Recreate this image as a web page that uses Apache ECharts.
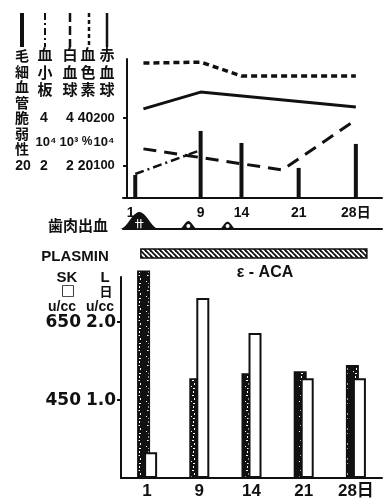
<!DOCTYPE html>
<html>
<head>
<meta charset="utf-8">
<script src="https://cdn.jsdelivr.net/npm/echarts@6/dist/echarts.min.js"></script>
<style>
  html, body { margin: 0; padding: 0; background: #fff; }
  #c { width: 383px; height: 498px; }
</style>
</head>
<body>
<div id="c"></div>
<script>
// ---- Blood findings over the course (days) ----
const days = [1, 9, 14, 21, 28];
const capFragility = [14.4, 41.9, 34.4, 18.8, 33.8];   // 毛細血管脆弱性
const plateletDays = [1, 9];
const platelets = [1.66, 2.66];                        // 血小板 ×10⁴
const wbcDays = [2, 19, 28];
const wbc = [2.71, 1.83, 3.92];                        // 白血球 ×10³
const hbDays = [2, 9, 14, 28];
const hemoglobin = [62.9, 63.3, 57.5, 57.5];           // 血色素 %
const rbcDays = [2, 9, 28];
const rbc = [219, 254, 223];                           // 赤血球 ×10⁴
// 歯肉出血: [day, grade]
const gumBleeding = [[1.5, 3], [7.5, 1.4], [12.3, 1.3]];

// ---- Plasmin activity ----
const plasminDays = ['1', '9', '14', '21', '28'];
const skPlasmin = [783, 506, 519, 524, 540];           // SK u/cc
const lPlasmin = [0.33, 2.31, 1.86, 1.28, 1.28];       // L u/cc
const acaCourse = [[0, 4]];                            // ε-ACA, first..last sampling index

// tick labels
const rbcTicks = [100, 200];
const hbTicks = [20, 40];
const wbcTicks = [2, 4];
const pltTicks = [2, 4];
const fragTicks = [20];
const skTicks = [450, 650];
const lTicks = [1, 2];

const INK = '#111';
const LAT = '"Liberation Sans", "Noto Sans CJK JP", sans-serif';
const WIDE = '"DejaVu Sans", sans-serif';
const CJK = '"Noto Sans CJK JP", sans-serif';

// black stippled fill for the SK bars
function stipple() {
  const c = document.createElement('canvas');
  c.width = 9; c.height = 15;
  const g = c.getContext('2d');
  g.fillStyle = INK; g.fillRect(0, 0, 9, 15);
  g.fillStyle = '#fff';
  g.fillRect(4, 1, 1, 2); g.fillRect(3, 5, 2, 1); g.fillRect(5, 8, 1, 2);
  g.fillRect(2, 11, 1, 1); g.fillRect(4, 13, 2, 1);
  return c;
}
// diagonal hatching for the ε-ACA band
function hatch() {
  const c = document.createElement('canvas');
  c.width = 5; c.height = 5;
  const g = c.getContext('2d');
  g.fillStyle = '#fff'; g.fillRect(0, 0, 5, 5);
  g.strokeStyle = INK; g.lineWidth = 1.8;
  g.beginPath(); g.moveTo(-1, -1); g.lineTo(6, 6); g.stroke();
  g.beginPath(); g.moveTo(4, -1); g.lineTo(6, 1); g.stroke();
  g.beginPath(); g.moveTo(-1, 4); g.lineTo(1, 6); g.stroke();
  return c;
}

const chart = echarts.init(document.getElementById('c'), null, { renderer: 'canvas' });

function hiddenY(grid, min, max, ticks, margin) {
  return {
    type: 'value', gridIndex: grid, min: min, max: max, position: 'left',
    axisLine: { show: false }, axisTick: { show: false }, splitLine: { show: false },
    axisLabel: ticks ? {
      customValues: ticks, margin: margin, align: 'center', color: INK,
      fontFamily: LAT, fontWeight: 'bold', fontSize: 14
    } : { show: false }
  };
}

const axisLine = { show: true, lineStyle: { color: INK, width: 2 } };

// legend samples and fixed captions
const graphics = [];
[[22, 4, null], [45, 2, [7, 3, 2, 3]], [70, 2.5, [9, 4]], [89, 2.5, [4, 3]], [107, 2.5, null]]
  .forEach(([x, w, dash]) => graphics.push({
    type: 'line', shape: { x1: x, y1: 13, x2: x, y2: 47 },
    style: { stroke: INK, lineWidth: w, lineDash: dash }
  }));
function txt(text, x, y, font, extra) {
  graphics.push({ type: 'text', x: x, y: y,
    style: Object.assign({ text: text, font: font, fill: INK, align: 'center', verticalAlign: 'middle' }, extra || {}) });
}
txt('毛\n細\n血\n管\n脆\n弱\n性', 22, 48, 'bold 14px ' + CJK, { verticalAlign: 'top', lineHeight: 15.5 });
txt('血\n小\n板', 45, 46, 'bold 15px ' + CJK, { verticalAlign: 'top', lineHeight: 17.5 });
txt('白\n血\n球', 70, 46, 'bold 15px ' + CJK, { verticalAlign: 'top', lineHeight: 17.5 });
txt('血\n色\n素', 88, 46, 'bold 15px ' + CJK, { verticalAlign: 'top', lineHeight: 17.5 });
txt('赤\n血\n球', 107, 46, 'bold 15px ' + CJK, { verticalAlign: 'top', lineHeight: 17.5 });
txt('10⁴', 46, 142, 'bold 13px ' + LAT);
txt('10³', 69, 142, 'bold 13px ' + LAT);
txt('%', 87, 142, 'bold 12px ' + LAT);
txt('10⁴', 104, 142, 'bold 13px ' + LAT);
txt('歯肉出血', 78, 225, 'bold 15px ' + CJK);
txt('PLASMIN', 75, 257, 'bold 15px ' + LAT);
txt('SK', 67, 278, 'bold 15px ' + LAT);
txt('L', 105, 278, 'bold 15px ' + LAT);
txt('□', 68, 291, 'bold 15px ' + WIDE);
txt('日', 106, 291, 'bold 13px ' + CJK);
txt('u/cc', 62, 307, 'bold 14px ' + LAT);
txt('u/cc', 100, 307, 'bold 14px ' + LAT);
txt('ε - ACA', 265, 273, 'bold 16px ' + LAT);

const option = {
  backgroundColor: '#fff',
  animation: false,
  graphic: graphics,
  grid: [
    { left: 123, top: 59, width: 259, height: 139, outerBoundsMode: 'none', containLabel: false },
    { left: 123, top: 212, width: 259, height: 17, outerBoundsMode: 'none', containLabel: false },
    { left: 121, top: 277, width: 261, height: 201, outerBoundsMode: 'none', containLabel: false }
  ],
  xAxis: [
    { type: 'value', gridIndex: 0, min: -0.5, max: 31.2, axisLine: axisLine,
      axisTick: { show: false }, splitLine: { show: false },
      axisLabel: { customValues: days, margin: 8, color: INK, fontFamily: LAT, fontWeight: 'bold', fontSize: 14,
        formatter: v => v === 1 ? '{first|1}' : (v === 28 ? '28日' : String(v)),
        rich: { first: { padding: [0, 9, 0, 0], fontFamily: LAT, fontWeight: 'bold', fontSize: 14, color: INK } } } },
    { type: 'value', gridIndex: 1, min: -0.5, max: 31.2, axisLine: axisLine,
      axisTick: { show: false }, splitLine: { show: false }, axisLabel: { show: false } },
    { type: 'category', gridIndex: 2, data: plasminDays, axisLine: axisLine,
      axisTick: { show: false },
      axisLabel: { margin: 5, color: INK, fontFamily: LAT, fontWeight: 'bold', fontSize: 17,
        formatter: v => v === '28' ? '28日' : v } }
  ],
  yAxis: [
    // 0: 赤血球 (drawn axis)
    { type: 'value', gridIndex: 0, min: 33, max: 323, position: 'left',
      axisLine: axisLine, splitLine: { show: false },
      axisTick: { show: true, customValues: rbcTicks, length: 4, lineStyle: { color: INK, width: 2 } },
      axisLabel: { customValues: rbcTicks, margin: 19, align: 'center', color: INK,
        fontFamily: LAT, fontWeight: 'bold', fontSize: 13 } },
    hiddenY(0, 6.6, 64.6, hbTicks, 37.5),      // 1: 血色素
    hiddenY(0, 0.66, 6.46, wbcTicks, 53),      // 2: 白血球
    hiddenY(0, 0.66, 6.46, pltTicks, 79),      // 3: 血小板
    hiddenY(0, 0, 86.875, fragTicks, 100),     // 4: 毛細血管脆弱性
    hiddenY(1, 0, 3, null, 0),                 // 5: gum bleeding grade
    // 6: L plasmin (drawn axis)
    { type: 'value', gridIndex: 2, min: 0, max: 2.58, position: 'left',
      axisLine: axisLine, splitLine: { show: false },
      axisTick: { show: true, customValues: lTicks, length: 4, lineStyle: { color: INK, width: 2 } },
      axisLabel: { customValues: lTicks, margin: 5, color: INK, fontFamily: WIDE, fontWeight: 'bold', fontSize: 17,
        formatter: v => v.toFixed(1) } },
    // 7: SK plasmin
    { type: 'value', gridIndex: 2, min: 250, max: 766, startValue: 250, position: 'left',
      axisLine: { show: false }, axisTick: { show: false }, splitLine: { show: false },
      axisLabel: { customValues: skTicks, margin: 40, color: INK, fontFamily: WIDE, fontWeight: 'bold', fontSize: 17 } }
  ],
  series: [
    { name: '毛細血管脆弱性', type: 'bar', xAxisIndex: 0, yAxisIndex: 4, barWidth: 4,
      itemStyle: { color: INK }, data: days.map((d, i) => [d, capFragility[i]]) },
    { name: '赤血球', type: 'line', xAxisIndex: 0, yAxisIndex: 0, symbol: 'none',
      lineStyle: { color: INK, width: 3 }, data: rbcDays.map((d, i) => [d, rbc[i]]) },
    { name: '血色素', type: 'line', xAxisIndex: 0, yAxisIndex: 1, symbol: 'none',
      lineStyle: { color: INK, width: 3.5, type: [6, 4] }, data: hbDays.map((d, i) => [d, hemoglobin[i]]) },
    { name: '白血球', type: 'line', xAxisIndex: 0, yAxisIndex: 2, symbol: 'none',
      lineStyle: { color: INK, width: 3, type: [13, 8] }, data: wbcDays.map((d, i) => [d, wbc[i]]) },
    { name: '血小板', type: 'line', xAxisIndex: 0, yAxisIndex: 3, symbol: 'none',
      lineStyle: { color: INK, width: 2.5, type: [9, 4, 2, 4] }, data: plateletDays.map((d, i) => [d, platelets[i]]) },
    { name: '歯肉出血', type: 'custom', xAxisIndex: 1, yAxisIndex: 5, data: gumBleeding,
      renderItem: function (params, api) {
        const top = api.coord([api.value(0), api.value(1)]);
        const base = api.coord([api.value(0), 0]);
        const h = base[1] - top[1], w = h * 1.15;
        const pts = [];
        for (let i = 0; i <= 24; i++) {
          const t = -1 + i / 12;
          pts.push([base[0] + t * w, base[1] - h * (0.5 + 0.5 * Math.cos(Math.PI * t))]);
        }
        const kids = [{ type: 'polygon', shape: { points: pts }, style: { fill: INK } }];
        if (api.value(1) >= 2) {
          kids.push({ type: 'text', style: { text: '卄', x: base[0], y: base[1] - 5, fill: '#fff',
            font: 'bold 9px ' + CJK, align: 'center', verticalAlign: 'middle' } });
        } else {
          kids.push({ type: 'circle', shape: { cx: base[0], cy: base[1] - 3, r: 2 }, style: { fill: '#fff' } });
        }
        return { type: 'group', children: kids };
      } },
    { name: 'SK', type: 'bar', xAxisIndex: 2, yAxisIndex: 7, barWidth: 13, barGap: '-46%', clip: false,
      itemStyle: { color: { image: stipple(), repeat: 'repeat' }, borderColor: INK, borderWidth: 1.5 },
      data: skPlasmin },
    { name: 'L', type: 'bar', xAxisIndex: 2, yAxisIndex: 6, barWidth: 13, barGap: '-46%', clip: false,
      itemStyle: { color: '#fff', borderColor: INK, borderWidth: 2 }, data: lPlasmin },
    { name: 'ε-ACA', type: 'custom', xAxisIndex: 2, yAxisIndex: 6, data: acaCourse,
      renderItem: function (params, api) {
        const a = api.coord([api.value(0), 0]);
        const b = api.coord([api.value(1), 0]);
        const band = api.size([1, 0])[0];
        const x0 = a[0] - band * 0.12, x1 = b[0] + band * 0.21;
        const y0 = params.coordSys.y - 28;
        return { type: 'rect', shape: { x: x0, y: y0, width: x1 - x0, height: 9 },
          style: { fill: { image: hatch(), repeat: 'repeat' }, stroke: INK, lineWidth: 1.5 } };
      } }
  ]
};
chart.setOption(option);
</script>
</body>
</html>
